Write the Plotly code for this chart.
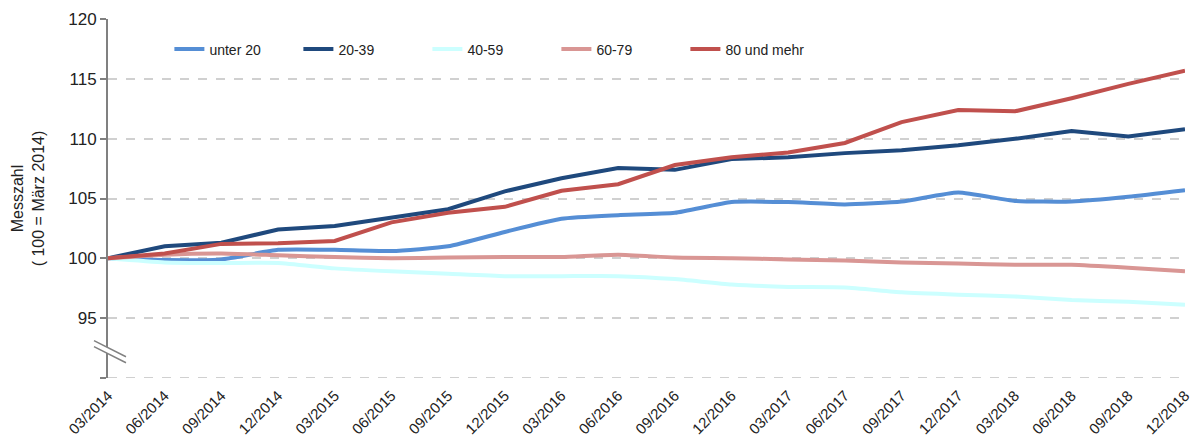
import plotly.graph_objects as go

quarters = ["03/2014", "06/2014", "09/2014", "12/2014", "03/2015", "06/2015", "09/2015", "12/2015",
            "03/2016", "06/2016", "09/2016", "12/2016", "03/2017", "06/2017", "09/2017", "12/2017",
            "03/2018", "06/2018", "09/2018", "12/2018"]

unter_20 = [100, 99.85, 99.9, 100.7, 100.7, 100.6, 101.0, 102.2, 103.3, 103.6, 103.8, 104.7, 104.7,
            104.5, 104.75, 105.5, 104.8, 104.75, 105.15, 105.7]
a20_39 = [100, 101.0, 101.3, 102.4, 102.7, 103.4, 104.1, 105.6, 106.7, 107.55, 107.4, 108.3, 108.45,
          108.8, 109.05, 109.45, 110.0, 110.65, 110.2, 110.8]
a40_59 = [100, 99.65, 99.6, 99.6, 99.15, 98.9, 98.7, 98.5, 98.5, 98.5, 98.25, 97.8, 97.6, 97.55,
          97.15, 96.95, 96.8, 96.5, 96.35, 96.1]
a60_79 = [100, 100.3, 100.4, 100.25, 100.1, 100.0, 100.05, 100.1, 100.1, 100.3, 100.05, 100.0, 99.9,
          99.8, 99.65, 99.55, 99.45, 99.45, 99.2, 98.9]
a80_plus = [100, 100.4, 101.2, 101.25, 101.45, 103.0, 103.8, 104.3, 105.65, 106.2, 107.8, 108.45,
            108.85, 109.65, 111.4, 112.4, 112.3, 113.4, 114.6, 115.7]

series = [
    ("unter 20", unter_20, "#558ED5", "spline"),
    ("20-39", a20_39, "#1F497D", "linear"),
    ("40-59", a40_59, "#CCFFFF", "spline"),
    ("60-79", a60_79, "#D99694", "spline"),
    ("80 und mehr", a80_plus, "#C0504D", "linear"),
]

y_ticks = [90, 95, 100, 105, 110, 115, 120]
y_ticktext = ["", "95", "100", "105", "110", "115", "120"]
y_min, y_max = 90, 120

fig = go.Figure()
for name, vals, color, shape in series:
    fig.add_trace(go.Scatter(
        x=quarters, y=vals, name=name, mode="lines",
        line=dict(color=color, width=4, shape=shape, smoothing=0.5),
    ))

font_family = "Liberation Sans, Arial, sans-serif"

fig.update_layout(
    width=1192, height=441,
    margin=dict(l=108, r=7, t=19, b=63),
    paper_bgcolor="white", plot_bgcolor="white",
    font=dict(family=font_family, color="#222222", size=14),
    showlegend=True,
    legend=dict(
        orientation="h", x=0.057, y=0.915, xanchor="left", yanchor="middle",
        font=dict(size=14, color="#222222"), bgcolor="rgba(0,0,0,0)",
        entrywidth=84, entrywidthmode="pixels",
    ),
    xaxis=dict(
        type="category", range=[0, 19], showgrid=False, showline=False,
        ticks="", tickangle=-45, tickfont=dict(size=15, color="#222222"),
        ticklabelstandoff=5, zeroline=False, automargin=False,
    ),
    yaxis=dict(
        range=[y_min - 0.03, y_max + 0.03], tickvals=y_ticks, ticktext=y_ticktext,
        showgrid=True, gridcolor="#D0D0D0", griddash="dash", gridwidth=1.5,
        showline=True, linecolor="#808080", linewidth=2,
        ticks="outside", ticklen=6, tickcolor="#808080", tickwidth=2,
        tickfont=dict(size=17, color="#222222"), zeroline=False,
        title=dict(text="Messzahl<br>( 100 = März 2014)", font=dict(size=16, color="#222222"), standoff=20),
        automargin=False,
    ),
)

# bottom dashed baseline (acts as category axis line)
fig.add_shape(type="line", xref="paper", yref="y", x0=0, x1=1, y0=y_min, y1=y_min,
              line=dict(color="#D0D0D0", width=1.5, dash="dash"), layer="below")

# axis break marker
fig.add_shape(type="path", xref="paper", yref="y",
              path="M -0.013 93.1 L 0.0167 91.75 L 0.0167 91.25 L -0.013 92.6 Z",
              fillcolor="white", line=dict(width=0), layer="above")
fig.add_shape(type="line", xref="paper", yref="y", x0=-0.013, y0=93.1, x1=0.0167, y1=91.75,
              line=dict(color="#808080", width=1.5), layer="above")
fig.add_shape(type="line", xref="paper", yref="y", x0=-0.013, y0=92.6, x1=0.0167, y1=91.25,
              line=dict(color="#808080", width=1.5), layer="above")

fig.write_html("out.html", config={"displayModeBar": False},
               post_script="document.body.style.margin='0';")
